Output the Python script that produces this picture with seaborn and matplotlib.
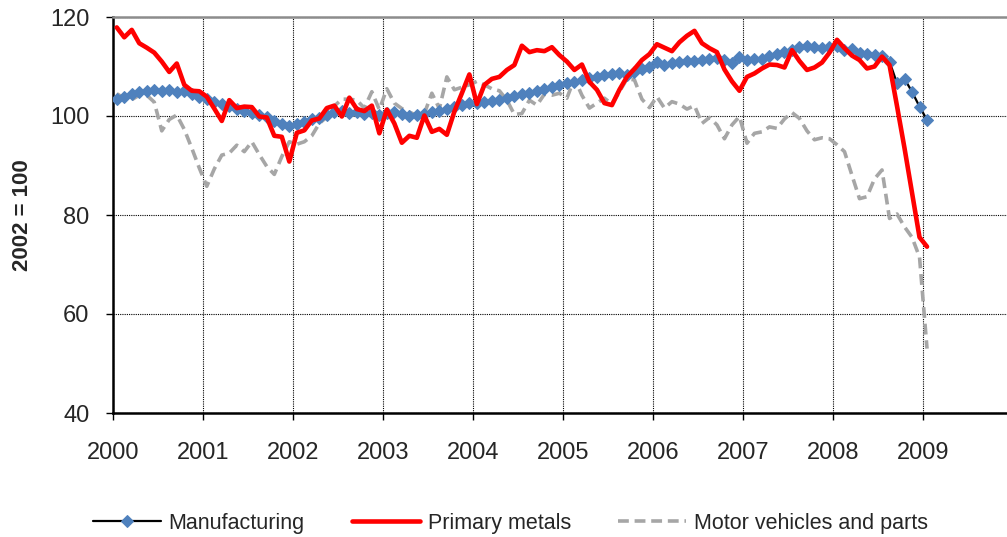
import numpy as np
import pandas as pd
import matplotlib
matplotlib.use('Agg')
import matplotlib.pyplot as plt
import seaborn as sns

# monthly index values, Jan 2000 .. Jan 2009 (2002 = 100)
manufacturing = [
    103.4, 103.9, 104.4, 104.9, 105.1, 105.3, 105.0, 105.3, 104.9, 105.1, 104.5, 103.9,
    103.4, 102.9, 102.5, 102.0, 101.5, 101.1, 100.7, 100.3, 99.7, 99.0, 98.3, 98.0,
    98.3, 98.7, 99.3, 99.6, 100.2, 100.8, 101.0, 100.7, 100.8, 100.5, 100.6, 100.3,
    100.6, 100.8, 100.4, 100.1, 100.2, 100.4, 100.8, 101.1, 101.5, 101.9, 102.3, 102.6,
    102.7, 102.9, 103.0, 103.3, 103.7, 104.0, 104.4, 104.7, 105.0, 105.5, 105.9, 106.3,
    106.6, 106.9, 107.3, 107.6, 107.9, 108.2, 108.4, 108.6, 108.3, 108.8, 109.5, 110.0,
    111.0, 110.4, 110.7, 110.9, 111.1, 111.2, 111.4, 111.6, 111.8, 111.3, 110.8, 111.9,
    111.3, 111.5, 111.6, 112.2, 112.6, 113.0, 113.4, 114.0, 114.2, 114.0, 113.7, 114.0,
    114.1, 113.4, 113.6, 112.8, 112.6, 112.4, 112.2, 111.0, 106.6, 107.5, 104.9, 101.9,
    99.2,
]
primary_metals = [
    117.9, 115.9, 117.4, 114.7, 113.8, 112.8, 111.0, 108.9, 110.6, 106.3, 105.1, 105.0,
    103.9, 101.5, 99.0, 103.2, 101.6, 101.9, 101.8, 99.9, 99.7, 96.0, 95.8, 90.8,
    96.6, 97.1, 99.1, 99.5, 101.6, 102.1, 99.9, 103.7, 101.4, 101.0, 102.1, 96.5,
    101.3, 98.5, 94.6, 96.0, 95.6, 100.1, 96.8, 97.4, 96.2, 100.9, 104.6, 108.4,
    102.4, 106.3, 107.5, 107.9, 109.3, 110.3, 114.2, 112.9, 113.3, 113.1, 113.9, 112.3,
    111.0, 109.3, 110.4, 106.9, 105.3, 102.6, 102.2, 105.3, 107.9, 109.5, 111.3, 112.5,
    114.5, 113.8, 113.1, 114.9, 116.2, 117.2, 114.7, 113.7, 112.9, 109.4, 107.0, 105.1,
    107.9, 108.6, 109.6, 110.4, 110.3, 109.8, 113.3, 111.1, 109.3, 109.8, 110.8, 112.8,
    115.4, 113.7, 112.2, 111.3, 109.6, 110.0, 112.0, 110.3, 102.0, 93.5, 84.5, 75.5,
    73.6,
]
motor_vehicles = [
    104.5, 103.6, 103.3, 104.2, 104.2, 102.8, 97.0, 99.3, 100.2, 97.3, 93.5, 89.5,
    85.8, 89.3, 92.1, 92.5, 94.1, 92.8, 94.8, 92.2, 89.8, 88.2, 91.8, 94.8,
    94.3, 94.8, 96.0, 98.5, 99.8, 102.0, 103.4, 103.4, 103.2, 101.6, 104.9, 101.3,
    105.5, 102.6, 101.5, 100.8, 100.1, 100.5, 104.6, 101.5, 107.9, 105.3, 105.8, 106.3,
    107.0, 106.3, 105.5, 105.1, 103.2, 100.3, 100.5, 103.2, 102.2, 104.4, 104.2, 104.6,
    103.6, 107.6, 104.2, 101.6, 102.6, 103.6, 102.4, 104.9, 107.5, 107.3, 103.4, 101.7,
    103.9, 101.6, 102.9, 102.4, 101.4, 102.1, 98.5, 99.7, 98.2, 95.4, 98.2, 99.9,
    94.5, 96.5, 96.8, 97.8, 97.5, 99.4, 100.7, 99.5, 97.0, 95.2, 95.6, 95.4,
    94.2, 92.8, 88.0, 83.3, 83.7, 87.3, 89.1, 79.3, 80.2, 77.6, 75.5, 71.5,
    53.0,
]
year_ticks = list(range(2000, 2010))
y_ticks = [40, 60, 80, 100, 120]

month = np.arange(len(manufacturing))
df = pd.DataFrame({
    'date': 2000 + (month + 0.5) / 12,
    'Manufacturing': manufacturing,
    'Primary metals': primary_metals,
    'Motor vehicles and parts': motor_vehicles,
})

sns.set_style('white')
plt.rcParams['font.family'] = ['Liberation Sans', 'DejaVu Sans']

fig = plt.figure(figsize=(10.07, 5.37), dpi=100)
ax = fig.add_axes([113 / 1007, 1 - 413 / 537, 1 - 113 / 1007, (413 - 17) / 537])

sns.lineplot(data=df, x='date', y='Manufacturing', ax=ax, color='black', lw=1.6,
             marker='D', markersize=6, markerfacecolor='#4F81BD',
             markeredgecolor='#4F81BD', label='Manufacturing', zorder=3)
sns.lineplot(data=df, x='date', y='Primary metals', ax=ax, color='#FF0000', lw=3.3,
             label='Primary metals', zorder=4)
sns.lineplot(data=df, x='date', y='Motor vehicles and parts', ax=ax, color='#A6A6A6',
             lw=2.6, linestyle=(0, (3, 1.6)), label='Motor vehicles and parts', zorder=2)

ax.set_xlim(2000, 2009.93)
ax.set_ylim(40, 120)
ax.set_xticks(year_ticks)
ax.set_xticklabels([str(y) for y in year_ticks], fontsize=17)
ax.set_yticks(y_ticks)
ax.set_yticklabels([str(v) for v in y_ticks], fontsize=17)
ax.set_xlabel('')
ax.set_ylabel('2002 = 100', fontsize=16, fontweight='bold', labelpad=12)

ax.grid(True, color='black', linestyle=(0, (1, 1)), lw=0.8)
ax.set_axisbelow(True)
ax.tick_params(axis='x', direction='out', length=5, width=1, color='black',
               bottom=True, pad=16)
ax.tick_params(axis='y', direction='out', length=5, width=1, color='black',
               left=True, pad=12)

for side in ['left', 'bottom']:
    ax.spines[side].set_color('black')
    ax.spines[side].set_linewidth(1.8)
ax.spines['top'].set_color('#8C8C8C')
ax.spines['top'].set_linewidth(1.8)
ax.spines['right'].set_visible(False)

handles, labels = ax.get_legend_handles_labels()
ax.get_legend().remove()
fig.legend(handles, labels, loc='center', bbox_to_anchor=(0.507, 0.026), ncol=3,
           frameon=False, fontsize=15.5, handlelength=3.15, columnspacing=2.2,
           handletextpad=0.37)

fig.savefig('out.png', dpi=100)
